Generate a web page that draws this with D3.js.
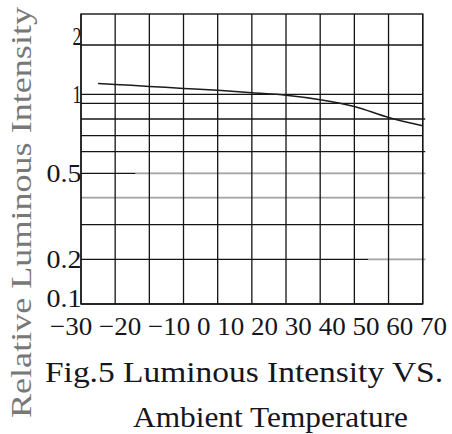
<!DOCTYPE html>
<html>
<head>
<meta charset="utf-8">
<script src="https://cdn.jsdelivr.net/npm/d3@7"></script>
<style>
  body { margin: 0; background: #fff; }
  svg { display: block; }
</style>
</head>
<body>
<div id="chart"></div>
<script>
// values
var tempC = [-25, -20, -10, 0, 10, 20, 30, 40, 50, 60, 70];
var relIntensity = [1.22, 1.20, 1.16, 1.12, 1.08, 1.03, 0.99, 0.94, 0.88, 0.81, 0.76];

var xTicks = [-30, -20, -10, 0, 10, 20, 30, 40, 50, 60, 70];
var xTickLabels = ["\u221230", "\u221220", "\u221210", "0", "10", "20", "30", "40", "50", "60", "70"];
var yGrid = [0.1, 0.2, 0.3, 0.4, 0.5, 0.6, 0.7, 0.8, 0.9, 1, 2];
var yTickValues = [0.1, 0.2, 0.5, 1, 2];
var yTickLabels = ["0.1", "0.2", "0.5", "1", "2"];

// scanned grid lines that came out grey (value, grey from this temperature on)
var fadedGrid = [{ v: 0.5, from: -14 }, { v: 0.4, from: -30 }, { v: 0.2, from: 54 }];
var overhang = [0.8, 0.6, 0.5, 0.2];

var svgWidth = 452;
var svgHeight = 434;
var margin = { top: 14, right: 29.3, bottom: 130, left: 81 };
var width = svgWidth - margin.left - margin.right;
var height = svgHeight - margin.top - margin.bottom;

var svg = d3.select("#chart")
  .append("svg")
  .attr("width", svgWidth)
  .attr("height", svgHeight);

svg.append("rect")
  .attr("width", svgWidth)
  .attr("height", svgHeight)
  .attr("fill", "#fff");

var chartGroup = svg.append("g")
  .attr("transform", `translate(${margin.left}, ${margin.top})`);

var xScale = d3.scaleLinear()
  .domain([-30, 70])
  .range([0, width]);

// the printed axis is hand-ruled, not a true log axis: piecewise linear
var yPix = [290, 245.3, 210.7, 183.7, 159.3, 137.7, 121.7, 105, 89.3, 80.3, 31];
var yScale = d3.scaleLinear()
  .domain(yGrid)
  .range(yPix);

var ink = "#141414";

// horizontal grid
chartGroup.selectAll(".hgrid")
  .data(yGrid)
  .enter()
  .append("line")
  .attr("x1", 0)
  .attr("x2", d => overhang.indexOf(d) >= 0 ? width + 2.5 : width)
  .attr("y1", d => yScale(d))
  .attr("y2", d => yScale(d))
  .attr("stroke", ink)
  .attr("stroke-width", 1.3);

// grey stretches of some grid lines
chartGroup.selectAll(".fade")
  .data(fadedGrid)
  .enter()
  .append("line")
  .attr("x1", d => xScale(d.from))
  .attr("x2", width + 2.5)
  .attr("y1", d => yScale(d.v))
  .attr("y2", d => yScale(d.v))
  .attr("stroke", "#fff")
  .attr("stroke-width", 2.2);

chartGroup.selectAll(".fadeg")
  .data(fadedGrid)
  .enter()
  .append("line")
  .attr("x1", d => xScale(d.from))
  .attr("x2", width + 2.5)
  .attr("y1", d => yScale(d.v))
  .attr("y2", d => yScale(d.v))
  .attr("stroke", "#a5a5a5")
  .attr("stroke-width", 1.7);

// vertical grid
chartGroup.selectAll(".vgrid")
  .data(xTicks)
  .enter()
  .append("line")
  .attr("x1", d => xScale(d))
  .attr("x2", d => xScale(d))
  .attr("y1", 0)
  .attr("y2", height)
  .attr("stroke", ink)
  .attr("stroke-width", 1.3);

// frame
chartGroup.append("rect")
  .attr("width", width)
  .attr("height", height)
  .attr("fill", "none")
  .attr("stroke", ink)
  .attr("stroke-width", 1.4);

// curve
var line = d3.line()
  .x((d, i) => xScale(tempC[i]))
  .y(d => yScale(d))
  .curve(d3.curveMonotoneX);

chartGroup.append("path")
  .datum(relIntensity)
  .attr("d", line)
  .attr("fill", "none")
  .attr("stroke", "#1c1c1c")
  .attr("stroke-width", 1.5);

var font = "'Liberation Serif', 'DejaVu Serif', serif";
var textInk = "#16161e";

// y tick labels: end labels sit inside the frame, the rest are centred on their line
var lastTick = yTickValues.length - 1;
chartGroup.selectAll(".ylab")
  .data(yTickValues)
  .enter()
  .append("text")
  .attr("x", 0.5)
  .attr("y", (d, i) => i === lastTick ? yScale(d) : i === 0 ? yScale(d) + 2.5 : yScale(d) + 9)
  .attr("text-anchor", "end")
  .attr("font-family", font)
  .attr("font-size", 26)
  .attr("fill", textInk)
  .attr("textLength", (d, i) => yTickLabels[i].length * 13 - 4)
  .attr("lengthAdjust", "spacingAndGlyphs")
  .text((d, i) => yTickLabels[i]);

// x tick labels, set as one monospaced run like the original
svg.append("text")
  .attr("x", 50)
  .attr("y", 335)
  .attr("font-family", font)
  .attr("font-size", 26)
  .attr("fill", textInk)
  .attr("textLength", 397)
  .attr("lengthAdjust", "spacingAndGlyphs")
  .text(xTickLabels.join(" "));

// y axis title
svg.append("text")
  .attr("transform", "translate(31, 418) rotate(-90)")
  .attr("font-family", font)
  .attr("font-size", 30)
  .attr("fill", "#787878")
  .attr("textLength", 411)
  .attr("lengthAdjust", "spacingAndGlyphs")
  .text("Relative Luminous Intensity");

// caption
svg.append("text")
  .attr("x", 45)
  .attr("y", 382)
  .attr("font-family", font)
  .attr("font-size", 30)
  .attr("fill", textInk)
  .attr("textLength", 398)
  .attr("lengthAdjust", "spacingAndGlyphs")
  .text("Fig.5 Luminous Intensity VS.");

svg.append("text")
  .attr("x", 133)
  .attr("y", 427)
  .attr("font-family", font)
  .attr("font-size", 30)
  .attr("fill", textInk)
  .attr("textLength", 275)
  .attr("lengthAdjust", "spacingAndGlyphs")
  .text("Ambient Temperature");
</script>
</body>
</html>
